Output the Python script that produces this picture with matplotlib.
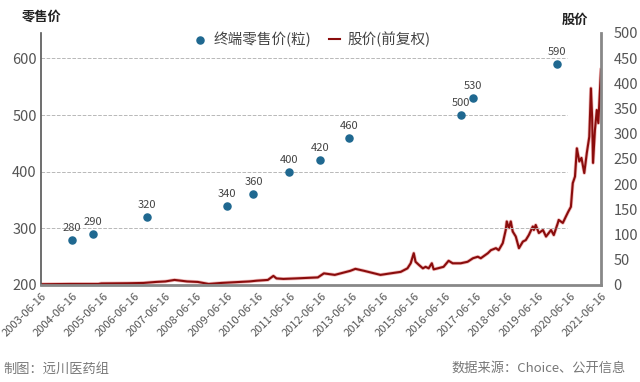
import matplotlib
matplotlib.use('Agg')
import matplotlib.pyplot as plt
import matplotlib.dates as mdates
import pandas as pd

plt.rcParams['font.family'] = ['Noto Sans CJK SC', 'DejaVu Sans']

# 终端零售价(粒) - 提价时间点
retail_dates = ['2004-06-16', '2005-02-20', '2006-11-10', '2009-06-10', '2010-04-15',
                '2011-06-10', '2012-06-05', '2013-05-10', '2016-12-20', '2017-05-01', '2020-01-20']
retail_price = [280, 290, 320, 340, 360, 400, 420, 460, 500, 530, 590]

# 股价(前复权)
stock_dates = ['2003-06-16', '2004-05-25', '2005-04-20', '2005-05-25', '2006-04-01', '2006-10-01',
               '2007-02-25', '2007-06-15', '2007-10-01', '2008-02-25', '2008-07-01', '2008-11-05',
               '2009-04-01', '2009-11-05', '2010-02-25', '2010-05-25', '2010-10-01', '2010-12-05',
               '2011-01-10', '2011-04-01', '2011-08-25', '2012-01-01', '2012-05-10', '2012-07-20',
               '2012-11-25', '2013-05-25', '2013-07-25', '2013-11-05', '2014-05-15', '2014-09-10',
               '2015-01-08', '2015-03-28', '2015-05-05', '2015-06-10', '2015-07-01', '2015-08-08',
               '2015-09-25', '2015-10-27', '2015-12-02', '2016-01-08', '2016-01-30', '2016-03-18',
               '2016-05-25', '2016-07-23', '2016-09-09', '2016-12-12', '2017-03-03', '2017-05-05',
               '2017-07-01', '2017-08-05', '2017-10-27', '2017-12-02', '2018-01-30', '2018-03-03',
               '2018-04-20', '2018-05-25', '2018-06-06', '2018-07-01', '2018-07-23', '2018-08-15',
               '2018-09-20', '2018-10-27', '2018-12-12', '2019-01-15', '2019-02-20', '2019-04-08',
               '2019-04-20', '2019-05-12', '2019-06-18', '2019-08-05', '2019-09-10', '2019-10-12',
               '2019-11-08', '2019-12-10', '2020-01-27', '2020-02-06', '2020-03-25', '2020-05-01',
               '2020-05-27', '2020-06-28', '2020-07-20', '2020-08-15', '2020-09-06', '2020-10-05',
               '2020-10-30', '2020-12-02', '2021-01-01', '2021-01-30', '2021-02-18', '2021-03-04',
               '2021-03-15', '2021-04-06', '2021-04-28', '2021-05-16', '2021-06-06', '2021-06-16']
stock_price = [1.5, 2, 2, 3, 3.4, 4,
               6, 7, 10, 7, 6, 2,
               4, 6, 7, 8.5, 10, 18,
               13, 12, 13, 14, 15, 23,
               20, 28, 32, 28, 20, 23,
               26, 33, 43, 63, 46, 40,
               33, 36, 33, 43, 31, 33,
               36, 48, 43, 43, 46, 53,
               56, 53, 63, 69, 73, 69,
               83, 109, 126, 113, 126, 106,
               96, 73, 86, 89, 99, 116,
               109, 119, 103, 109, 96, 103,
               109, 99, 123, 129, 123, 136,
               145, 155, 202, 215, 271, 245,
               252, 222, 262, 294, 390, 334,
               242, 307, 347, 321, 393, 427]

y_left_ticks = [200, 300, 400, 500, 600]
y_right_ticks = list(range(0, 501, 50))
x_tick_dates = pd.date_range('2003-06-16', periods=19, freq=pd.DateOffset(years=1))

retail_dt = pd.to_datetime(retail_dates)
stock_dt = pd.to_datetime(stock_dates)

fig = plt.figure(figsize=(6.4, 3.82), dpi=100)
ax = fig.add_axes([0.064, 0.254, 0.875, 0.66])
ax2 = ax.twinx()

ax.set_zorder(ax2.get_zorder() + 1)
ax.patch.set_visible(False)

# grid (left axis), stops short of the right edge
for y in y_left_ticks[1:]:
    ax.axhline(y, xmin=0, xmax=0.94, color='#b8b8b8', linestyle='--', linewidth=0.7, zorder=0)

ax2.plot(stock_dt, stock_price, color='#d84040', linewidth=2.6, alpha=0.35)
line, = ax2.plot(stock_dt, stock_price, color='#8a0c0c', linewidth=1.5, label='股价(前复权)')
sc = ax.scatter(retail_dt, retail_price, s=26, color='#1f6890', zorder=3, label='终端零售价(粒)')
for d, v in zip(retail_dt, retail_price):
    ax.annotate(str(v), (d, v), xytext=(0, 5), textcoords='offset points',
                ha='center', va='bottom', fontsize=8, color='#444444')

ax.set_xlim(pd.Timestamp('2003-06-16'), pd.Timestamp('2021-06-16'))
ax.set_ylim(200, 645)
ax2.set_ylim(0, 500)
ax.set_yticks(y_left_ticks)
ax2.set_yticks(y_right_ticks)
ax.set_xticks(x_tick_dates)
ax.xaxis.set_major_formatter(mdates.DateFormatter('%Y-%m-%d'))
for lbl in ax.get_xticklabels():
    lbl.set_rotation(45)
    lbl.set_ha('right')
    lbl.set_rotation_mode('anchor')

ax.tick_params(axis='x', length=0, labelsize=8, labelcolor='#555555', pad=4)
ax.tick_params(axis='y', length=0, labelsize=10.5, labelcolor='#555555', pad=3)
ax2.tick_params(axis='y', length=0, labelsize=10.5, labelcolor='#555555', pad=9)

for a in (ax, ax2):
    a.spines['top'].set_visible(False)
ax.spines['left'].set_color('#555555')
ax.spines['left'].set_linewidth(1.2)
ax.spines['bottom'].set_color('#888888')
ax.spines['bottom'].set_linewidth(2)
ax.spines['right'].set_visible(False)
ax2.spines['left'].set_visible(False)
ax2.spines['bottom'].set_visible(False)
ax2.spines['right'].set_color('#888888')
ax2.spines['right'].set_linewidth(2)

fig.text(0.034, 0.955, '零售价', fontsize=9.5, fontweight='bold', color='#222222', va='center')
fig.text(0.878, 0.947, '股价', fontsize=9.5, fontweight='bold', color='#222222', va='center')

ax.legend([sc, line], ['终端零售价(粒)', '股价(前复权)'], loc='center', bbox_to_anchor=(0.485, 0.975),
          ncol=2, frameon=False, fontsize=10.5, handlelength=0.8, handletextpad=0.5,
          columnspacing=1.2, labelcolor='#444444')

fig.text(0.005, 0.032, '制图：远川医药组', fontsize=9.5, color='#777777', va='center')
fig.text(0.978, 0.035, '数据来源：Choice、公开信息', fontsize=9.5, color='#777777', va='center', ha='right')

fig.savefig('out.png', dpi=100)
